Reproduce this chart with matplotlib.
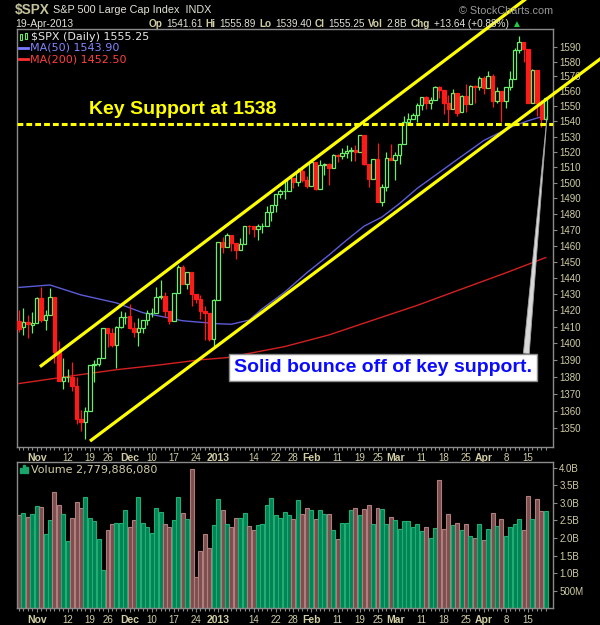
import pandas as pd
import matplotlib
matplotlib.use('Agg')
import matplotlib.pyplot as plt
from matplotlib.patches import Rectangle
from matplotlib.ticker import FixedLocator, NullLocator, FixedFormatter

plt.rcParams['font.family'] = ['Liberation Sans', 'DejaVu Sans']

# trading days shown (market closed on these)
holidays = ['2012-10-29', '2012-10-30', '2012-11-22', '2012-12-25', '2013-01-01',
            '2013-01-21', '2013-02-18', '2013-03-29']
dates = [d for d in pd.bdate_range('2012-10-24', '2013-04-19').strftime('%Y-%m-%d') if d not in holidays]

opens = [1413.20, 1409.74, 1412.97, 1410.99,
         1412.20, 1427.59,
         1414.02, 1417.26, 1428.27, 1394.53, 1377.55,
         1379.86, 1380.03, 1374.64, 1355.41, 1353.36,
         1359.88, 1386.82, 1387.79, 1391.03,
         1409.15, 1406.29, 1398.77, 1409.96, 1415.95,
         1416.34, 1409.46, 1407.05, 1409.43, 1413.95,
         1418.07, 1418.55, 1427.84, 1428.48, 1419.45,
         1413.54, 1430.47, 1446.79, 1435.81, 1443.67,
         1430.15, 1426.66, 1419.83, 1418.10,
         1402.43,
         1426.19, 1462.42, 1459.37,
         1466.47, 1461.89, 1457.15, 1461.02, 1472.12,
         1472.05, 1470.67, 1472.33, 1472.63, 1480.95,
         1485.98, 1492.56, 1494.81, 1494.82,
         1502.96, 1500.18, 1507.84, 1501.96,
         1498.11,
         1513.17, 1495.71, 1511.29, 1512.12, 1509.39,
         1517.93, 1517.01, 1519.43, 1520.33, 1521.38,
         1519.79, 1530.94, 1511.95, 1502.42,
         1515.60, 1487.85, 1496.94, 1515.99,
         1514.68,
         1518.20, 1525.20, 1539.79, 1541.46, 1544.26,
         1551.15, 1556.22, 1552.48, 1554.52, 1563.21,
         1560.70, 1552.10, 1548.34, 1558.71, 1545.90,
         1556.89, 1551.69, 1563.75, 1562.86,
         1569.18, 1562.17, 1570.25, 1553.69, 1559.98,
         1553.26, 1563.11, 1568.61, 1587.73, 1593.30,
         1588.84, 1552.36, 1574.57, 1552.03, 1541.61]
highs = [1420.04, 1421.12, 1417.09, 1418.76,
         1428.35, 1434.27,
         1419.90, 1433.38, 1428.27, 1401.23, 1391.39,
         1384.87, 1388.81, 1380.13, 1360.62, 1362.03,
         1386.89, 1389.77, 1391.25, 1409.16,
         1409.15, 1409.01, 1410.31, 1419.70, 1418.86,
         1423.73, 1413.14, 1415.56, 1413.95, 1420.34,
         1421.64, 1434.27, 1438.59, 1431.36, 1419.45,
         1430.67, 1448.00, 1447.75, 1443.70, 1443.67,
         1430.15, 1429.42, 1422.80, 1418.10,
         1426.74,
         1462.43, 1465.47, 1467.94,
         1466.47, 1461.89, 1464.73, 1472.30, 1472.75,
         1472.05, 1473.31, 1473.96, 1485.16, 1485.98,
         1492.56, 1496.13, 1502.27, 1503.26,
         1503.23, 1509.35, 1509.94, 1504.19,
         1514.41,
         1513.17, 1514.96, 1512.53, 1512.90, 1518.31,
         1518.31, 1522.29, 1524.69, 1523.14, 1524.24,
         1530.94, 1530.94, 1511.95, 1515.64,
         1525.84, 1498.99, 1520.08, 1525.34,
         1519.99,
         1525.27, 1543.47, 1545.25, 1545.78, 1552.48,
         1556.27, 1556.77, 1556.39, 1563.32, 1563.62,
         1560.70, 1557.25, 1561.56, 1558.71, 1557.74,
         1564.91, 1563.95, 1564.07, 1570.28,
         1570.57, 1573.66, 1571.47, 1562.60, 1559.98,
         1563.07, 1573.89, 1589.07, 1597.35, 1593.30,
         1588.84, 1575.35, 1574.57, 1554.38, 1555.89]
lows = [1407.10, 1405.14, 1403.28, 1405.95,
        1412.20, 1412.91,
        1408.13, 1417.26, 1388.14, 1377.51, 1373.03,
        1377.19, 1371.39, 1352.50, 1348.05, 1343.35,
        1359.88, 1377.04, 1386.39, 1391.03,
        1397.68, 1398.03, 1385.43, 1409.04, 1411.63,
        1408.46, 1403.65, 1398.23, 1405.93, 1410.90,
        1415.64, 1418.55, 1426.76, 1416.00, 1411.88,
        1413.54, 1430.47, 1435.80, 1432.82, 1422.58,
        1424.66, 1414.82, 1401.80, 1401.58,
        1398.11,
        1426.19, 1455.53, 1458.99,
        1456.62, 1451.64, 1457.15, 1461.02, 1467.58,
        1465.69, 1463.76, 1467.60, 1472.63, 1475.81,
        1481.16, 1489.90, 1489.46, 1494.82,
        1496.33, 1498.09, 1500.11, 1496.76,
        1498.11,
        1495.02, 1495.71, 1504.71, 1498.49, 1509.39,
        1513.61, 1515.61, 1515.93, 1514.02, 1514.14,
        1519.79, 1511.41, 1497.29, 1502.42,
        1487.85, 1485.01, 1494.88, 1514.46,
        1501.48,
        1512.29, 1525.20, 1538.11, 1541.46, 1539.29,
        1547.36, 1548.24, 1548.25, 1554.52, 1555.74,
        1545.13, 1538.57, 1548.34, 1543.55, 1545.90,
        1546.22, 1551.69, 1551.90, 1561.08,
        1558.47, 1562.17, 1549.80, 1552.52, 1539.50,
        1548.63, 1560.92, 1568.61, 1586.17, 1579.97,
        1552.28, 1552.36, 1543.69, 1536.03, 1539.40]
closes = [1408.75, 1412.97, 1411.94, 1412.16,
          1427.59, 1414.20,
          1417.26, 1428.39, 1394.53, 1377.51, 1379.85,
          1380.03, 1374.53, 1355.49, 1353.33, 1359.88,
          1386.89, 1387.81, 1391.03, 1409.15,
          1406.29, 1398.94, 1409.93, 1415.95, 1416.18,
          1409.46, 1407.05, 1409.28, 1413.94, 1418.07,
          1418.55, 1427.84, 1428.48, 1419.45, 1413.58,
          1430.36, 1446.79, 1435.81, 1443.69, 1430.15,
          1426.66, 1419.83, 1418.10, 1402.43,
          1426.19,
          1462.42, 1459.37, 1466.47,
          1461.89, 1457.15, 1461.02, 1472.12, 1472.05,
          1470.68, 1472.34, 1472.63, 1480.94, 1485.98,
          1492.56, 1494.81, 1494.82, 1502.96,
          1500.18, 1507.84, 1501.96, 1498.11,
          1513.17,
          1495.71, 1511.29, 1512.12, 1509.39, 1517.93,
          1517.01, 1519.43, 1520.33, 1521.38, 1519.79,
          1530.94, 1511.95, 1502.42, 1515.60,
          1487.85, 1496.94, 1515.99, 1514.68,
          1518.20,
          1525.20, 1539.79, 1541.46, 1544.26, 1551.18,
          1556.22, 1552.48, 1554.52, 1563.23, 1560.70,
          1552.10, 1548.34, 1558.71, 1545.80, 1556.89,
          1551.69, 1563.77, 1562.85, 1569.19,
          1562.17, 1570.25, 1553.69, 1559.98, 1553.28,
          1563.07, 1568.61, 1587.73, 1593.37, 1588.85,
          1552.36, 1574.57, 1552.01, 1541.61, 1555.25]

# volume in billions of shares
volumes = [2.65, 2.72, 2.61, 2.68, 2.90, 2.87, 2.12, 2.52, 3.30, 2.93,
           2.67, 1.92, 2.58, 3.01, 2.84, 3.18, 2.58, 2.47, 1.98, 1.09,
           2.24, 2.41, 2.44, 2.44, 2.81, 2.30, 2.50, 3.18, 2.44, 2.30,
           2.15, 2.84, 2.75, 2.41, 2.30, 2.52, 3.18, 2.70, 2.55, 3.96,
           0.89, 1.64, 2.10, 1.72, 2.38, 3.10, 2.81, 2.41, 2.32, 2.58,
           2.58, 2.70, 2.35, 2.24, 2.38, 2.41, 2.95, 3.13, 2.64, 2.58,
           2.75, 2.65, 2.53, 3.09, 2.67, 2.84, 2.81, 2.53, 2.81, 2.69,
           2.69, 2.22, 1.96, 2.44, 2.44, 2.79, 2.84, 2.65, 2.82, 2.93,
           2.41, 2.86, 2.82, 2.41, 2.61, 2.50, 2.25, 2.47, 2.47, 2.31,
           2.41, 2.19, 2.31, 2.00, 2.28, 3.65, 2.25, 2.67, 2.36, 2.44,
           2.22, 2.41, 2.05, 2.01, 2.39, 1.93, 2.25, 2.72, 2.33, 2.53,
           2.05, 2.31, 2.39, 2.53, 2.22, 3.19, 2.55, 3.10, 2.76, 2.78]
last_volume = '2,779,886,080'

ma50_dates = ['2012-10-24', '2012-11-06', '2012-11-15', '2012-11-28', '2012-12-06', '2012-12-19',
              '2013-01-02', '2013-01-07', '2013-01-11', '2013-01-16', '2013-01-24', '2013-01-31',
              '2013-02-07', '2013-02-13', '2013-02-20', '2013-02-26', '2013-03-04', '2013-03-08',
              '2013-03-21', '2013-04-01', '2013-04-09', '2013-04-15', '2013-04-19']
ma50_vals = [1434.0, 1435.5, 1429.4, 1424.5, 1418.5, 1413.6,
             1411.8, 1411.5, 1414.0, 1421.0, 1431.0, 1443.0,
             1454.0, 1463.4, 1472.3, 1478.0, 1486.7, 1496.4,
             1515.0, 1527.4, 1536.1, 1540.4, 1543.90]
ma200_dates = ['2012-10-24', '2012-11-15', '2012-11-28', '2012-12-11', '2012-12-26', '2013-01-04',
               '2013-01-24', '2013-02-07', '2013-02-22', '2013-03-08', '2013-03-22', '2013-04-08',
               '2013-04-19']
ma200_vals = [1376.0, 1381.3, 1384.2, 1386.8, 1390.1, 1391.4,
              1398.0, 1405.0, 1414.0, 1423.0, 1433.0, 1443.0, 1452.50]

tick_dates = ['2012-11-01', '2012-11-12', '2012-11-19', '2012-11-26', '2012-12-03', '2012-12-10',
              '2012-12-17', '2012-12-24', '2013-01-02', '2013-01-14', '2013-01-22', '2013-01-28',
              '2013-02-01', '2013-02-11', '2013-02-19', '2013-02-25', '2013-03-01', '2013-03-11',
              '2013-03-18', '2013-03-25', '2013-04-01', '2013-04-08', '2013-04-15']
tick_labels = ['Nov', '12', '19', '26', 'Dec', '10', '17', '24', '2013', '14', '22', '28',
               'Feb', '11', '19', '25', 'Mar', '11', '18', '25', 'Apr', '8', '15']
price_ticks = list(range(1350, 1600, 10))
vol_ticks = [0.5, 1.0, 1.5, 2.0, 2.5, 3.0, 3.5, 4.0]
vol_tick_labels = ['500M', '1.0B', '1.5B', '2.0B', '2.5B', '3.0B', '3.5B', '4.0B']

support_level = 1538
# hand drawn channel lines (date index, price)
upper_channel = [(4.74, 1386.0), (116.8, 1628.5)]
lower_channel = [(16.04, 1342.4), (133.5, 1586.8)]

assert len(dates) == len(closes) == len(volumes)
pos = {d: i for i, d in enumerate(dates)}
x = list(range(len(dates)))

BG = 'black'
FRAME = '#8a8a8a'
TAN = '#d2cea4'
LIGHT = '#e2e2d6'
UP = '#6cee6c'
DOWN = '#ff1a1a'
YELLOW = '#ffff00'

W, H = 600.0, 625.0
fig = plt.figure(figsize=(6, 6.25), dpi=100, facecolor=BG)


def axes_px(left, top, right, bottom):
    return fig.add_axes([left / W, 1 - bottom / H, (right - left) / W, (bottom - top) / H])


def ftext(xp, yp, s, **kw):
    return fig.text(xp / W, 1 - yp / H, s, **kw)


ax = axes_px(16.5, 29.5, 553, 447)
axv = axes_px(16.5, 461.7, 553, 608.3)
ax.set_yscale('log')

tick_pos = [pos[d] for d in tick_dates]
for a in (ax, axv):
    a.set_facecolor(BG)
    for s in a.spines.values():
        s.set_color(FRAME)
        s.set_linewidth(1)
    a.set_xlim(-0.56, 120.65)
    a.yaxis.tick_right()
    a.xaxis.set_major_locator(FixedLocator(tick_pos))
    a.xaxis.set_major_formatter(FixedFormatter(tick_labels))
    a.xaxis.set_minor_locator(FixedLocator(x))
    a.tick_params(axis='both', which='both', colors=FRAME, labelcolor=TAN, labelsize=7,
                  direction='out', width=0.8)
    a.tick_params(axis='x', which='major', length=3, pad=1.5)
    a.tick_params(axis='x', which='minor', length=2)
    a.tick_params(axis='y', which='major', length=3, pad=1.5)
    for lbl, t in zip(a.get_xticklabels(), tick_labels):
        if not t.isdigit() or len(t) == 4:
            lbl.set_fontweight('bold')
            lbl.set_fontsize(7.5)

# price panel
ax.set_ylim(1339, 1602)
ax.yaxis.set_major_locator(FixedLocator(price_ticks))
ax.yaxis.set_major_formatter(FixedFormatter([str(v) for v in price_ticks]))
ax.yaxis.set_minor_locator(NullLocator())

ax.plot([pos[d] for d in ma200_dates], ma200_vals, color='#d42020', lw=1.0, zorder=2)
ax.plot([pos[d] for d in ma50_dates], ma50_vals, color='#5c5cd8', lw=1.0, zorder=2)

cols = [UP if c >= o else DOWN for o, c in zip(opens, closes)]
faces = [BG if c >= o else DOWN for o, c in zip(opens, closes)]
ax.vlines(x, lows, highs, colors=cols, lw=0.9, zorder=3)
ax.bar(x, [abs(c - o) for o, c in zip(opens, closes)], bottom=[min(o, c) for o, c in zip(opens, closes)],
       width=0.78, color=faces, edgecolor=cols, linewidth=0.9, zorder=4)

# annotations
ax.axhline(support_level, color=YELLOW, lw=2.2, dashes=(1.9, 1.0), zorder=6)
ax.text(37, 1548, 'Key Support at 1538', color=YELLOW, fontsize=14, fontweight='bold',
        ha='center', va='center', zorder=7)
for seg in (upper_channel, lower_channel):
    ax.plot([p[0] for p in seg], [p[1] for p in seg], color=YELLOW, lw=2.3,
            solid_capstyle='butt', clip_on=False, zorder=6)
ax.annotate('Solid bounce off of key support.', xy=(119.3, 1543), xytext=(82.2, 1385.7),
            ha='center', va='center', fontsize=14, fontweight='bold', color='#0a0aff',
            bbox=dict(boxstyle='square,pad=0.25', fc='white', ec='#8c8c8c', lw=1),
            arrowprops=dict(arrowstyle='wedge,tail_width=0.3,shrink_factor=0.5', fc='#d8d8d8',
                            ec='#a0a0a0', lw=0.6, relpos=(0.98, 1.0), shrinkA=0, shrinkB=0),
            annotation_clip=False, zorder=8)

# volume panel
prev = [opens[0]] + closes[:-1]
up_day = [c >= p for c, p in zip(closes, prev)]
axv.bar(x, volumes, width=0.9,
        color=['#008456' if u else '#7c4e4e' for u in up_day],
        edgecolor=['#22ad72' if u else '#b07e7e' for u in up_day], linewidth=0.8)
axv.set_ylim(0, 4.17)
axv.yaxis.set_major_locator(FixedLocator(vol_ticks))
axv.yaxis.set_major_formatter(FixedFormatter(vol_tick_labels))

# legends inside panels
leg = dict(family='DejaVu Sans', fontsize=8, va='center', ha='left')
fig.add_artist(Rectangle((19.5 / W, 1 - 40 / H), 2.5 / W, 6 / H, fill=False, ec=UP, lw=0.8))
fig.add_artist(Rectangle((24.5 / W, 1 - 39 / H), 2.5 / W, 6 / H, fill=False, ec=UP, lw=0.8))
ftext(31, 36.5, f'$SPX (Daily) {closes[-1]:.2f}', color='#e6e6e6', **leg)
fig.add_artist(plt.Line2D([19 / W, 28 / W], [1 - 48 / H] * 2, color='#7a7aff', lw=2))
ftext(30, 48, f'MA(50) {ma50_vals[-1]:.2f}', color='#8484ff', **leg)
fig.add_artist(plt.Line2D([19 / W, 28 / W], [1 - 59 / H] * 2, color='#ff3030', lw=2))
ftext(30, 59, f'MA(200) {ma200_vals[-1]:.2f}', color='#ff4040', **leg)
for i, hgt in enumerate([5, 8, 6]):
    fig.add_artist(Rectangle(((19.5 + 3 * i) / W, 1 - 473 / H), 2.2 / W, hgt / H, color='#1aa56a'))
ftext(31, 469.5, f'Volume {last_volume}', color=TAN, **leg)

# header
renderer = fig.canvas.get_renderer()


def text_run(xp, yp, parts, gap=4):
    for s, bold, color, size in parts:
        t = ftext(xp, yp, s, fontsize=size, fontweight='bold' if bold else 'normal',
                  color=color, va='center', ha='left')
        xp = t.get_window_extent(renderer).x1 + gap


text_run(15, 10, [('$SPX', True, '#c4c29a', 9.8),
                  ('S&P 500 Large Cap Index  INDX', False, LIGHT, 7.8)], gap=3)
ftext(553, 11, '\u00a9 StockCharts.com', color='#9a9a9a', fontsize=7.8, ha='right', va='center')
ftext(15, 24, '19-Apr-2013', color=LIGHT, fontsize=7.5, va='center', ha='left')
chg = closes[-1] - closes[-2]
ohlc = [('Op', f'{opens[-1]:.2f}'), ('Hi', f'{highs[-1]:.2f}'), ('Lo', f'{lows[-1]:.2f}'),
        ('Cl', f'{closes[-1]:.2f}'), ('Vol', f'{volumes[-1]:.1f}B'),
        ('Chg', f'{chg:+.2f} ({chg / closes[-2] * 100:+.2f}%)')]
parts = []
for lab, val in ohlc:
    parts += [(lab, True, TAN, 7.2), (val, False, LIGHT, 7.2)]
parts.append(('\u25b2', False, '#22cc44', 7.2))
text_run(148.5, 24, parts, gap=3.5)

fig.savefig('out.png', dpi=100, facecolor=BG)
